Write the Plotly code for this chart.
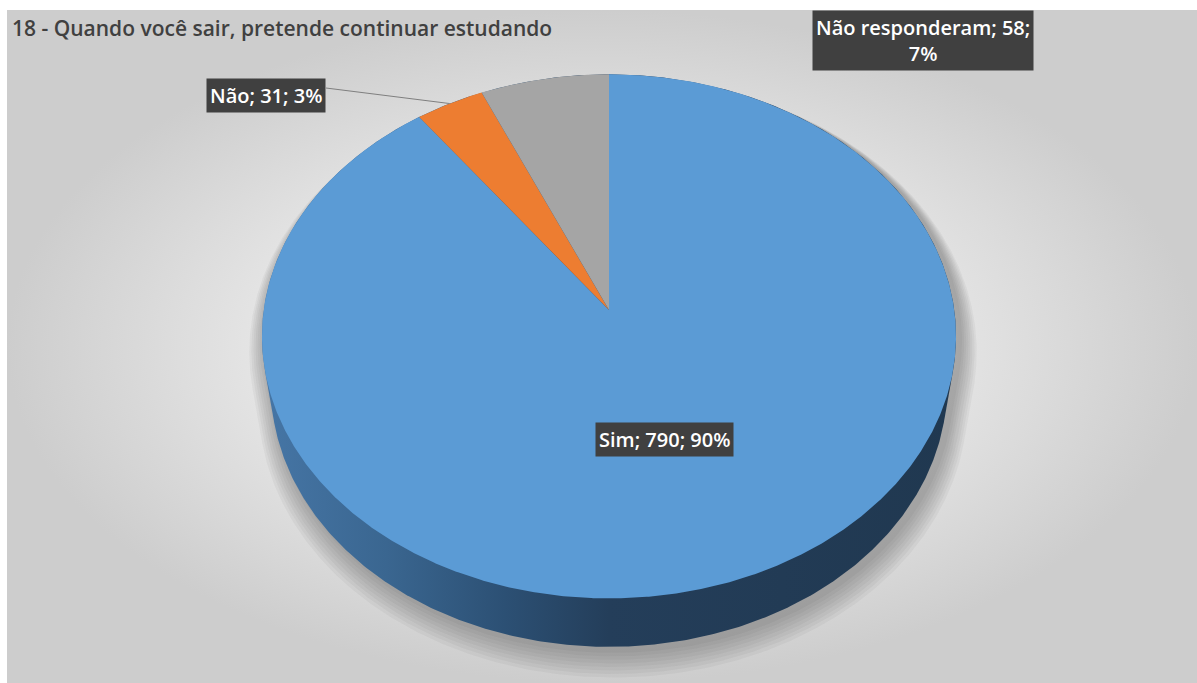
import numpy as np
import plotly.graph_objects as go

# ---- data ----
categories = ["Sim", "Não", "Não responderam"]
counts = [790, 31, 58]
percent_labels = [90, 3, 7]
title_text = "18 - Quando você sair, pretende continuar estudando"

# ---- styling ----
W, H = 1197, 683
slice_colors = ["#5B9BD5", "#ED7D31", "#A5A5A5"]
label_font = dict(family="Open Sans", size=20, color="white", weight=600)

# perspective camera for the tilted disk (unit radius)
CX, CY = 609.0, 310.0
TILT = np.radians(48.7)
DIST = 6.56
FOCAL = 2265.0
THICK = 0.23


def project(X, Y, Z):
    c, s = np.cos(TILT), np.sin(TILT)
    depth = DIST + Y * c - Z * s
    up = Y * s + Z * c
    return CX + FOCAL * X / depth, CY - FOCAL * up / depth


def rim(theta, z=0.0):
    # theta measured clockwise from 12 o'clock
    return project(np.sin(theta), np.cos(theta), np.full_like(theta, z))


def hull(px, py):
    pts = sorted(set(zip(np.round(px, 3), np.round(py, 3))))

    def cross(o, a, b):
        return (a[0] - o[0]) * (b[1] - o[1]) - (a[1] - o[1]) * (b[0] - o[0])

    lower, upper = [], []
    for p in pts:
        while len(lower) >= 2 and cross(lower[-2], lower[-1], p) <= 0:
            lower.pop()
        lower.append(p)
    for p in reversed(pts):
        while len(upper) >= 2 and cross(upper[-2], upper[-1], p) <= 0:
            upper.pop()
        upper.append(p)
    h = lower[:-1] + upper[:-1]
    h.append(h[0])
    return np.array([p[0] for p in h]), np.array([p[1] for p in h])


fig = go.Figure()

# chart-area background with a soft radial light
bx = [7, W, W, 7, 7]
by = [10, 10, H, H, 10]
fig.add_trace(go.Scatter(
    x=bx, y=by, mode="lines", fill="toself", line=dict(width=0),
    fillgradient=dict(type="radial",
                      colorscale=[[0, "#F6F6F6"], [0.55, "#E6E6E6"], [1, "#CDCDCD"]]),
    hoverinfo="skip", showlegend=False))

# silhouette of the disk (top rim + bottom rim)
full = np.linspace(0, 2 * np.pi, 721)
tx, ty = rim(full, 0.0)
bx2, by2 = rim(full, -THICK)
sx, sy = hull(np.concatenate([tx, bx2]), np.concatenate([ty, by2]))

# soft drop shadow, cast down and to the right
for k in range(8):
    grow = 1.0 + 0.006 * (k + 1)
    fig.add_trace(go.Scatter(
        x=CX + (sx - CX) * grow + 4, y=CY + (sy - CY) * grow + 4 + 1.5 * k,
        mode="lines", fill="toself", line=dict(width=0),
        fillcolor="rgba(60,60,60,0.05)", hoverinfo="skip", showlegend=False))

# side wall of the disk
fig.add_trace(go.Scatter(
    x=sx, y=sy, mode="lines", fill="toself", line=dict(width=0),
    fillgradient=dict(type="horizontal",
                      colorscale=[[0, "#4676A6"], [0.18, "#3A6690"], [0.35, "#2C5074"],
                                  [0.5, "#243E5A"], [1, "#203850"]]),
    hoverinfo="skip", showlegend=False))

# top face slices
total = sum(counts)
start = 0.0
mids = []
for cat, val, col in zip(categories, counts, slice_colors):
    span = 2 * np.pi * val / total
    th = np.linspace(start, start + span, max(int(span * 180), 3))
    rx, ry = rim(th, 0.0)
    px = np.concatenate([[CX], rx, [CX]])
    py = np.concatenate([[CY], ry, [CY]])
    fig.add_trace(go.Scatter(
        x=px, y=py, mode="lines", fill="toself", line=dict(width=0),
        fillcolor=col, name=cat, hoverinfo="name", showlegend=False))
    mids.append(start + span / 2)
    start += span

# data labels
label_text = [f"{c}; {v}; {p}%" for c, v, p in zip(categories, counts, percent_labels)]
label_text[2] = f"{categories[2]}; {counts[2]};<br>{percent_labels[2]}%"
label_pos = [(664, 439), (266, 95), (923, 40)]

# leader line for the small slice
mx, my = rim(np.array([mids[1]]), 0.0)
fig.add_trace(go.Scatter(
    x=[326, mx[0]], y=[88, my[0]], mode="lines",
    line=dict(color="#7F7F7F", width=1), hoverinfo="skip", showlegend=False))

for txt, (lx, ly) in zip(label_text, label_pos):
    fig.add_annotation(
        x=lx, y=ly, xref="x", yref="y", text=txt, showarrow=False,
        font=label_font, bgcolor="#404040", borderpad=3, align="center")

fig.add_annotation(
    x=10, y=28, xref="x", yref="y", text=title_text, showarrow=False,
    xanchor="left", yanchor="middle",
    font=dict(family="Open Sans", size=21, color="#404040", weight=600))

fig.update_layout(
    width=W, height=H, margin=dict(l=0, r=0, t=0, b=0),
    paper_bgcolor="white", plot_bgcolor="white",
    xaxis=dict(range=[0, W], visible=False, fixedrange=True),
    yaxis=dict(range=[H, 0], visible=False, fixedrange=True),
    showlegend=False)

fig.write_html("out.html")
